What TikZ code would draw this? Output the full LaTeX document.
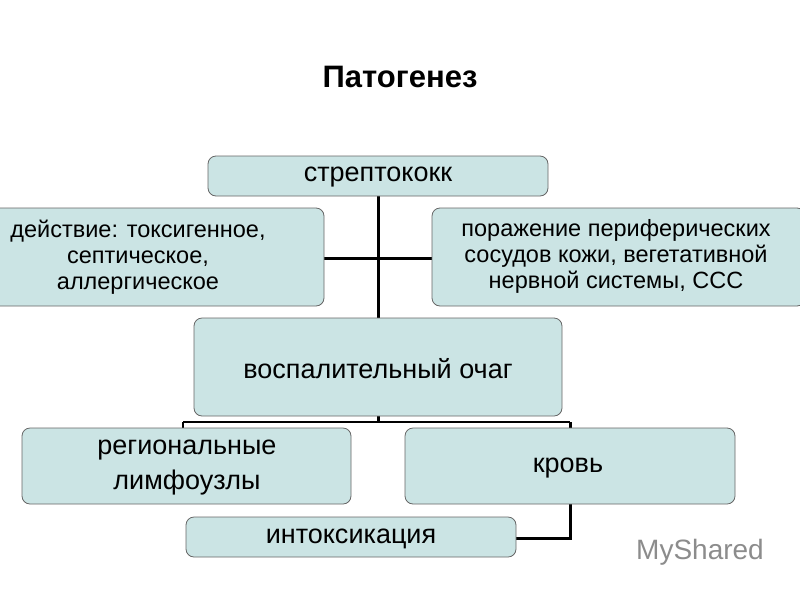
\documentclass[tikz,border=0pt]{standalone}
\usepackage{fontspec}
\setmainfont{Liberation Sans}
\begin{document}
\begin{tikzpicture}[x=1pt,y=-1pt,
  bx/.style={draw=black!60,fill=boxc,rounded corners=8pt,line width=0.8pt},
  ln/.style={line width=3pt,black},
  tx/.style={align=center,font=\fontsize{27}{33}\selectfont}]
\definecolor{boxc}{HTML}{CBE4E4}
\useasboundingbox (0,0) rectangle (800,600);
\node[font=\fontsize{31}{36}\selectfont\bfseries] (title) at (400,77) {Патогенез};
% connectors
\draw[ln] (378,196) -- (378,318);
\draw[ln] (324,258) -- (432,258);
\draw[ln] (378,416) -- (378,422);
\draw[line width=2pt] (183,422) -- (570,422);
\draw[line width=2pt] (183,422) -- (183,428);
\draw[ln] (570,422) -- (570,538) -- (516,538);
% boxes
\draw[bx] (208,156) rectangle (548,196);
\node[tx] (s) at (378,177) {стрептококк};
\draw[bx] (-10,208) rectangle (324,306);
\node[tx,font=\fontsize{23.5}{26}\selectfont] (l) at (138,257) {действие: токсигенное,\\септическое,\\аллергическое};
\draw[bx] (432,208) rectangle (805,306);
\node[tx,font=\fontsize{23.5}{26}\selectfont] (r) at (616,256) {поражение периферических\\сосудов кожи, вегетативной\\нервной системы, ССС};
\draw[bx] (194,318) rectangle (562,416);
\node[tx] (o) at (378,369) {воспалительный очаг};
\draw[bx] (22,428) rectangle (351,504);
\node[tx,font=\fontsize{27}{35}\selectfont] (rl) at (187,468) {региональные\\лимфоузлы};
\draw[bx] (405,428) rectangle (735,504);
\node[tx] (k) at (568,468) {кровь};
\draw[bx] (186,517) rectangle (516,557);
\node[tx] (i) at (351,539) {интоксикация};
\node[text=black!45,font=\fontsize{28}{32}\selectfont] (w) at (700,552) {MyShared};
\end{tikzpicture}
\end{document}
